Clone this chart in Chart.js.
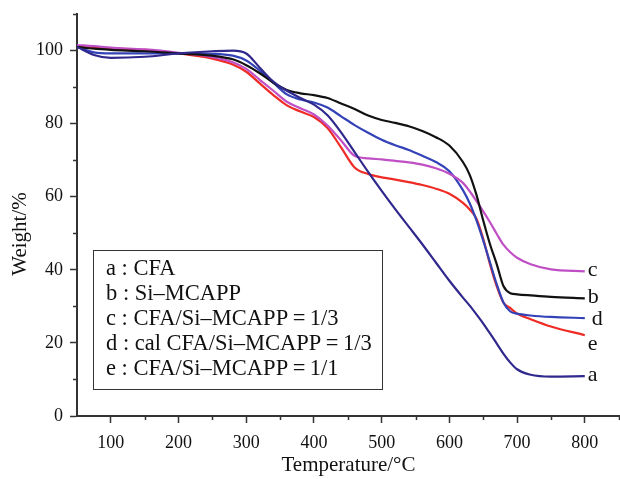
<!DOCTYPE html>
<html>
<head>
<meta charset="utf-8">
<script src="https://cdn.jsdelivr.net/npm/chart.js@4.4.1/dist/chart.umd.min.js"></script>
<style>
  html, body { margin: 0; padding: 0; background: #fff; }
  #tgaChart { display: block; }
</style>
</head>
<body>
<canvas id="tgaChart" width="620" height="479"></canvas>
<script>
// Temperaturas de muestreo (°C)
const temperaturas = [50, 75, 100, 150, 200, 250, 280, 300, 320, 340, 360, 380, 400, 420, 440, 460, 480, 500, 520, 540, 560, 580, 600, 620, 630, 640, 650, 660, 670, 680, 690, 700, 720, 750, 800];

// Peso residual (%) de cada muestra
const pesoA = [101, 98.8, 98, 98.3, 99.2, 99.8, 100, 99.2, 95.3, 91.5, 89, 87, 85.2, 82.3, 77.6, 72.2, 66.8, 61.6, 56.6, 51.8, 47, 42, 37, 32.4, 30.2, 27.8, 25.3, 22.6, 19.8, 17, 14.6, 12.8, 11.3, 10.8, 10.9];
const pesoB = [101, 100.5, 100.2, 99.8, 99.2, 98.6, 97.6, 96, 93.8, 91.2, 89.2, 88.3, 87.8, 87, 85.5, 84, 82.2, 81, 80.2, 79.3, 78, 76.3, 74, 69.5, 66, 60.5, 53.5, 47, 41.5, 35.5, 33.6, 33.3, 33, 32.6, 32.2];
const pesoC = [101.5, 101.2, 100.8, 100.3, 99.4, 98.2, 96.8, 95, 92, 89, 86, 84.2, 82.5, 79.5, 75.4, 71.2, 70.5, 70.2, 69.8, 69.4, 68.8, 67.8, 66.3, 63.8, 61.5, 58.8, 56, 53, 49.8, 46.8, 44.8, 43.3, 41.5, 40.1, 39.6];
const pesoD = [101, 99.5, 99.2, 99.2, 99.2, 99.1, 98.6, 97.3, 94.5, 91.2, 88, 86.6, 85.8, 84.4, 82, 79.6, 77.5, 75.6, 74.1, 72.8, 71.2, 69.5, 67, 61.8, 58.2, 53.5, 48, 42, 36, 31, 28.6, 28, 27.5, 27.1, 26.8];
const pesoE = [101, 100.8, 100.6, 100.2, 99.2, 97.8, 96.2, 94.2, 91, 87.8, 85, 83.3, 81.8, 78.8, 73.5, 68, 66.2, 65.3, 64.7, 64, 63.2, 62.2, 60.8, 58.3, 56.5, 54, 48.5, 41.5, 35.5, 31, 29.5, 28, 26.5, 24.5, 22.1];

const claves = ['a', 'b', 'c', 'd', 'e'];
const leyendaTextos = ['a : CFA', 'b : Si–MCAPP', 'c : CFA/Si–MCAPP\u2009=\u20091/3', 'd : cal CFA/Si–MCAPP\u2009=\u20091/3', 'e : CFA/Si–MCAPP\u2009=\u20091/1'];
const ticksX = [100, 200, 300, 400, 500, 600, 700, 800];
const ticksY = [0, 20, 40, 60, 80, 100];

const series = [pesoA, pesoB, pesoC, pesoD, pesoE];
const colores = ['#30288c', '#111111', '#c04fc6', '#3442b8', '#ee2b24'];
// desplazamiento vertical (px) de la etiqueta al final de cada curva
const offsetEtiqueta = [5, 5, 5, 7, 15];
const fuente = "'Liberation Serif', 'Times New Roman', serif";

const decoracion = {
  id: 'decoracion',
  afterDraw(chart) {
    const { ctx, chartArea, scales: { x, y } } = chart;
    ctx.save();

    // ticks menores
    ctx.strokeStyle = '#333';
    ctx.lineWidth = 1.5;
    ctx.beginPath();
    for (let v = 150; v <= 850; v += 100) {
      const px = Math.round(x.getPixelForValue(v)) + 0.5;
      ctx.moveTo(px, chartArea.bottom);
      ctx.lineTo(px, chartArea.bottom + 4);
    }
    for (let v = 10; v <= 110; v += 20) {
      const py = Math.round(y.getPixelForValue(v)) + 0.5;
      ctx.moveTo(chartArea.left, py);
      ctx.lineTo(chartArea.left - 4, py);
    }
    ctx.stroke();

    // título eje Y
    ctx.fillStyle = '#111';
    ctx.font = '21px ' + fuente;
    ctx.textAlign = 'center';
    ctx.textBaseline = 'middle';
    ctx.translate(20, 234);
    ctx.rotate(-Math.PI / 2);
    ctx.fillText('Weight/%', 0, 0);
    ctx.setTransform(1, 0, 0, 1, 0, 0);

    // etiquetas al final de las curvas
    ctx.font = '22px ' + fuente;
    ctx.textAlign = 'left';
    ctx.textBaseline = 'alphabetic';
    claves.forEach((k, i) => {
      const datos = series[i];
      const ultimo = datos[datos.length - 1];
      const px = x.getPixelForValue(temperaturas[temperaturas.length - 1]) + (k === 'd' ? 7 : 3);
      const py = y.getPixelForValue(ultimo) + offsetEtiqueta[i];
      ctx.fillText(k, px, py);
    });

    // caja de leyenda
    const bx0 = Math.round(x.getPixelForValue(73)) + 0.5;
    const bx1 = Math.round(x.getPixelForValue(501)) + 0.5;
    const by0 = Math.round(y.getPixelForValue(45.4)) + 0.5;
    const by1 = Math.round(y.getPixelForValue(7.4)) + 0.5;
    ctx.lineWidth = 1;
    ctx.strokeStyle = '#333';
    ctx.fillStyle = '#fff';
    ctx.fillRect(bx0, by0, bx1 - bx0, by1 - by0);
    ctx.strokeRect(bx0, by0, bx1 - bx0, by1 - by0);
    ctx.fillStyle = '#111';
    ctx.font = '22.5px ' + fuente;
    leyendaTextos.forEach((t, i) => {
      ctx.fillText(t, bx0 + 12.5, by0 + 24 + i * 25);
    });

    ctx.restore();
  }
};

const ctxTga = document.getElementById('tgaChart').getContext('2d');
window.tgaChartInstance = new Chart(ctxTga, {
  type: 'line',
  data: {
    datasets: series.map((datos, i) => ({
      label: claves[i],
      data: temperaturas.map((t, j) => ({ x: t, y: datos[j] })),
      borderColor: colores[i],
      borderWidth: 2.2,
      pointRadius: 0,
      fill: false,
      cubicInterpolationMode: 'monotone'
    }))
  },
  options: {
    responsive: false,
    animation: false,
    layout: { padding: { top: 14, right: 0, left: 0, bottom: 0 } },
    plugins: {
      legend: { display: false },
      tooltip: { enabled: false }
    },
    scales: {
      x: {
        type: 'linear',
        min: 50,
        max: 852,
        afterBuildTicks: s => { s.ticks = ticksX.map(v => ({ value: v })); },
        afterFit: s => { s.height = 63; s.paddingLeft = 0; s.paddingRight = 0; },
        grid: { drawOnChartArea: false, drawTicks: true, tickLength: 7, tickColor: '#333', tickWidth: 1.5 },
        border: { display: true, color: '#333', width: 2 },
        ticks: { color: '#111', font: { family: fuente, size: 18 }, padding: 9, maxRotation: 0, autoSkip: false },
        title: { display: true, text: 'Temperature/°C', color: '#111', font: { family: fuente, size: 21 }, padding: { top: 0, bottom: 1 } }
      },
      y: {
        min: 0,
        max: 110,
        afterBuildTicks: s => { s.ticks = ticksY.map(v => ({ value: v })); },
        afterFit: s => { s.width = 77; s.paddingTop = 0; s.paddingBottom = 0; },
        grid: { drawOnChartArea: false, drawTicks: true, tickLength: 7, tickColor: '#333', tickWidth: 1.5 },
        border: { display: true, color: '#333', width: 2 },
        ticks: { color: '#111', font: { family: fuente, size: 18 }, padding: 7 }
      }
    }
  },
  plugins: [decoracion]
});
</script>
</body>
</html>
